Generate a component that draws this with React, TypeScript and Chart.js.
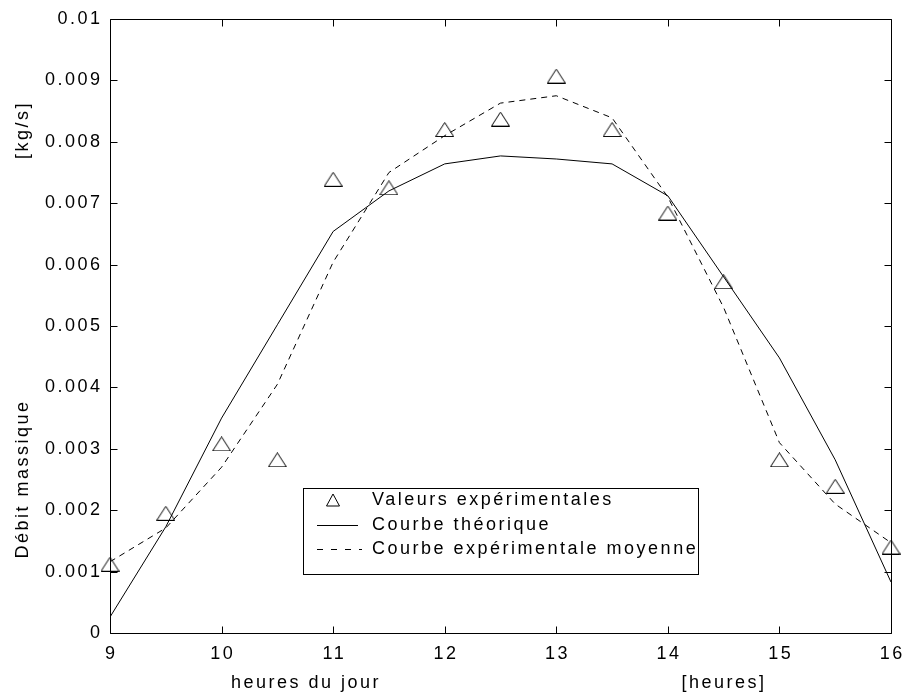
import React, { useEffect, useRef } from "react";
import { Chart, registerables } from "chart.js";

Chart.register(...registerables);

const hours = [9, 9.5, 10, 10.5, 11, 11.5, 12, 12.5, 13, 13.5, 14, 14.5, 15, 15.5, 16];
const experimental = [0.00112, 0.00195, 0.00308, 0.00282, 0.00739, 0.00725, 0.0082, 0.00837, 0.00907, 0.0082, 0.00684, 0.00572, 0.00282, 0.00239, 0.0014];
const theoretical = [0.00026, 0.00173, 0.0035, 0.00502, 0.00654, 0.0072, 0.00764, 0.00777, 0.00772, 0.00764, 0.00712, 0.0058, 0.00448, 0.00282, 0.00083];
const meanExperimental = [0.00116, 0.00171, 0.0027, 0.00405, 0.00604, 0.0075, 0.0081, 0.00863, 0.00875, 0.00839, 0.0071, 0.0053, 0.0031, 0.0021, 0.00147];

const xTickValues = [9, 10, 11, 12, 13, 14, 15, 16];
const xTickLabels = ["9", "10", "11", "12", "13", "14", "15", "16"];
const yTickValues = [0, 0.001, 0.002, 0.003, 0.004, 0.005, 0.006, 0.007, 0.008, 0.009, 0.01];
const yTickLabels = ["0", "0.001", "0.002", "0.003", "0.004", "0.005", "0.006", "0.007", "0.008", "0.009", "0.01"];

const seriesLabels = ["Valeurs expérimentales", "Courbe théorique", "Courbe expérimentale moyenne"];
const yTitleMain = "Débit massique";
const yTitleUnit = "[kg/s]";
const xTitleMain = "heures du jour";
const xTitleUnit = "[heures]";

const FONT = '"Liberation Sans", Arial, Helvetica, sans-serif';
const SPACING = "2.5px";

function makeTriangle(w: number, h: number) {
  const c = document.createElement("canvas");
  c.width = w;
  c.height = h;
  const g = c.getContext("2d")!;
  g.strokeStyle = "#000";
  g.lineWidth = 1;
  g.beginPath();
  g.moveTo(0.5, h - 0.5);
  g.lineTo(w - 0.5, h - 0.5);
  g.lineTo(w / 2, 0.5);
  g.closePath();
  g.stroke();
  return c;
}

export default function App() {
  const ref = useRef<HTMLCanvasElement>(null);

  useEffect(() => {
    if (!ref.current) return;
    const tri = makeTriangle(19, 15);

    const framePlugin = {
      id: "frame",
      afterDatasetsDraw(chart: any) {
        const ctx = chart.ctx;
        const a = chart.chartArea;
        const xs = chart.scales.x;
        const ys = chart.scales.y;
        const L = Math.round(a.left) + 0.5;
        const R = Math.round(a.right) + 0.5;
        const T = Math.round(a.top) + 0.5;
        const B = Math.round(a.bottom) + 0.5;
        ctx.save();
        ctx.strokeStyle = "#000";
        ctx.lineWidth = 1;
        ctx.setLineDash([]);
        ctx.beginPath();
        ctx.rect(L, T, R - L, B - T);
        const tl = 7;
        xTickValues.forEach((v) => {
          const p = Math.round(xs.getPixelForValue(v)) + 0.5;
          ctx.moveTo(p, B);
          ctx.lineTo(p, B - tl);
          ctx.moveTo(p, T);
          ctx.lineTo(p, T + tl);
        });
        yTickValues.forEach((v) => {
          const p = Math.round(ys.getPixelForValue(v)) + 0.5;
          ctx.moveTo(L, p);
          ctx.lineTo(L + tl, p);
          ctx.moveTo(R, p);
          ctx.lineTo(R - tl, p);
        });
        ctx.stroke();

        ctx.fillStyle = "#000";
        ctx.font = `18px ${FONT}`;
        ctx.letterSpacing = SPACING;
        ctx.textBaseline = "middle";

        // tick labels
        ctx.textAlign = "right";
        yTickValues.forEach((v, i) => {
          ctx.fillText(yTickLabels[i], 102.5, ys.getPixelForValue(v));
        });
        ctx.textAlign = "center";
        xTickValues.forEach((v, i) => {
          ctx.fillText(xTickLabels[i], xs.getPixelForValue(v) + 1.25, 654);
        });

        // axis titles
        ctx.fillText(xTitleMain, 306, 683);
        ctx.fillText(xTitleUnit, 724, 683);
        ctx.save();
        ctx.translate(23, 479);
        ctx.rotate(-Math.PI / 2);
        ctx.fillText(yTitleMain, 0, 0);
        ctx.restore();
        ctx.save();
        ctx.translate(23, 130);
        ctx.rotate(-Math.PI / 2);
        ctx.fillText(yTitleUnit, 0, 0);
        ctx.restore();

        // legend
        const bx = 303.5, by = 488.5, bw = 395, bh = 86;
        ctx.fillStyle = "#fff";
        ctx.fillRect(bx, by, bw, bh);
        ctx.strokeStyle = "#000";
        ctx.strokeRect(bx, by, bw, bh);
        const rows = [500, 525, 549];
        ctx.beginPath();
        ctx.moveTo(326.5, rows[0] + 6);
        ctx.lineTo(339.5, rows[0] + 6);
        ctx.lineTo(333, rows[0] - 6);
        ctx.closePath();
        ctx.stroke();
        ctx.beginPath();
        ctx.moveTo(317, rows[1] + 0.5);
        ctx.lineTo(358, rows[1] + 0.5);
        ctx.stroke();
        ctx.setLineDash([6, 8]);
        ctx.beginPath();
        ctx.moveTo(317, rows[2] + 0.5);
        ctx.lineTo(362, rows[2] + 0.5);
        ctx.stroke();
        ctx.setLineDash([]);
        ctx.fillStyle = "#000";
        ctx.textAlign = "left";
        seriesLabels.forEach((s, i) => ctx.fillText(s, 372, rows[i]));
        ctx.restore();
      },
    };

    const chart = new Chart(ref.current, {
      type: "line",
      data: {
        datasets: [
          {
            label: seriesLabels[0],
            data: hours.map((h, i) => ({ x: h, y: experimental[i] })),
            showLine: false,
            pointStyle: tri as any,
            pointRadius: 8,
            borderColor: "#000",
            backgroundColor: "transparent",
            clip: false as any,
          },
          {
            label: seriesLabels[1],
            data: hours.map((h, i) => ({ x: h, y: theoretical[i] })),
            borderColor: "#000",
            borderWidth: 1,
            pointRadius: 0,
            tension: 0,
            fill: false,
          },
          {
            label: seriesLabels[2],
            data: hours.map((h, i) => ({ x: h, y: meanExperimental[i] })),
            borderColor: "#000",
            borderWidth: 1,
            borderDash: [6, 5],
            pointRadius: 0,
            tension: 0,
            fill: false,
          },
        ],
      },
      options: {
        animation: false,
        responsive: false,
        events: [],
        layout: { padding: { top: 19, right: 17, left: 0, bottom: 0 } },
        plugins: { legend: { display: false }, tooltip: { enabled: false } },
        scales: {
          x: {
            type: "linear",
            min: 9,
            max: 16,
            grid: { display: false, drawTicks: false },
            border: { display: false },
            afterBuildTicks: (s: any) => {
              s.ticks = xTickValues.map((v) => ({ value: v }));
            },
            afterFit: (s: any) => {
              s.height = 67;
              s.paddingLeft = 0;
              s.paddingRight = 0;
            },
            ticks: { display: false },
          },
          y: {
            type: "linear",
            min: 0,
            max: 0.01,
            grid: { display: false, drawTicks: false },
            border: { display: false },
            afterBuildTicks: (s: any) => {
              s.ticks = yTickValues.map((v) => ({ value: v }));
            },
            afterFit: (s: any) => {
              s.width = 110;
              s.paddingTop = 0;
              s.paddingBottom = 0;
            },
            ticks: { display: false },
          },
        },
      },
      plugins: [framePlugin],
    } as any);

    return () => chart.destroy();
  }, []);

  return (
    <canvas
      ref={ref}
      width={908}
      height={700}
      style={{ position: "absolute", left: 0, top: 0, display: "block", width: 908, height: 700, background: "#fff" }}
    />
  );
}
